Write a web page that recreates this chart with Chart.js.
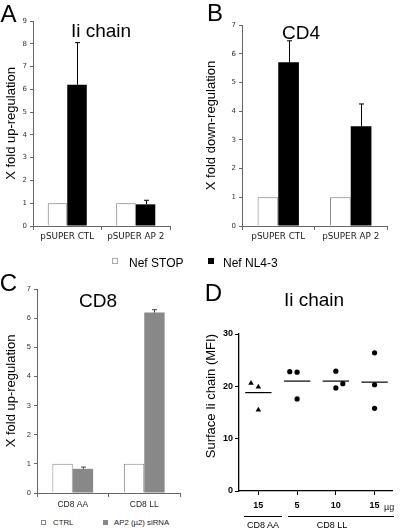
<!DOCTYPE html>
<html>
<head>
<meta charset="utf-8">
<script src="https://cdn.jsdelivr.net/npm/chart.js@4.4.0/dist/chart.umd.min.js"></script>
<style>
body { margin: 0; background: #fff; }
#wrap { position: relative; width: 400px; height: 528px; overflow: hidden;
        font-family: "Liberation Sans", Arial, sans-serif; color: #000; }
canvas { position: absolute; }
.t { position: absolute; white-space: nowrap; line-height: 1; transform: translate(-50%, -50%); }
.l { position: absolute; white-space: nowrap; line-height: 1; transform: translateY(-50%); }
.letter { font-size: 24px; }
.title { font-size: 19px; }
.sq { position: absolute; box-sizing: border-box; }
.gline { position: absolute; height: 0; border-top: 1px solid #000; }
</style>
</head>
<body>
<div id="wrap">
  <canvas id="cA" width="200" height="250" style="left:0;top:0"></canvas>
  <canvas id="cB" width="200" height="250" style="left:200px;top:0"></canvas>
  <canvas id="cC" width="200" height="258" style="left:0;top:260px"></canvas>
  <canvas id="cD" width="200" height="258" style="left:200px;top:260px"></canvas>

  <div class="t letter" style="left:8.5px;top:13.5px">A</div>
  <div class="t letter" style="left:215px;top:12.5px">B</div>
  <div class="t letter" style="left:8.5px;top:282.5px">C</div>
  <div class="t letter" style="left:213.5px;top:292.5px">D</div>

  <div class="t title" style="left:101px;top:30px">Ii chain</div>
  <div class="t title" style="left:301px;top:31.5px">CD4</div>
  <div class="t title" style="left:98px;top:300px">CD8</div>
  <div class="t title" style="left:314px;top:299px">Ii chain</div>

  <!-- legend A/B -->
  <div class="sq" style="left:112px;top:258px;width:6px;height:6px;border:1px solid #aaa;background:#fff"></div>
  <div class="l" style="left:129px;top:263px;font-size:12px">Nef STOP</div>
  <div class="sq" style="left:208px;top:258px;width:6px;height:6px;background:#000"></div>
  <div class="l" style="left:223px;top:263px;font-size:12px">Nef NL4-3</div>

  <!-- legend C -->
  <div class="sq" style="left:41px;top:520px;width:5px;height:5px;border:1px solid #888;background:#fff"></div>
  <div class="l" style="left:53px;top:522.5px;font-size:7.8px;color:#222">CTRL</div>
  <div class="sq" style="left:103px;top:520px;width:5px;height:5px;background:#888"></div>
  <div class="l" style="left:114px;top:522.5px;font-size:7.8px;color:#222">AP2 (µ2) siRNA</div>

  <!-- D extra axis text -->
  <div class="l" style="left:384px;top:507px;font-size:9px;color:#222">µg</div>
  <div class="gline" style="left:244px;top:516px;width:38px"></div>
  <div class="gline" style="left:288px;top:516px;width:106px"></div>
  <div class="t" style="left:263px;top:525px;font-size:9px">CD8 AA</div>
  <div class="t" style="left:332px;top:525px;font-size:9px">CD8 LL</div>
</div>

<script>
// panels A and B
var abCats = ['pSUPER CTL', 'pSUPER AP 2'];
var aStop = [1, 1];
var aNef = [6.2, 0.95];
var aNefErr = [1.85, 0.18];
var bStop = [1, 1];
var bNef = [5.7, 3.47];
var bNefErr = [0.75, 0.78];

// panel C
var cCats = ['CD8 AA', 'CD8 LL'];
var cCtrl = [1, 1];
var cSi = [0.83, 6.19];
var cSiErr = [0.06, 0.1];

// panel D
var dCats = ['15', '5', '10', '15'];
var dAA = [20.6, 19.9, 15.5];
var dAAJit = [-0.19, 0, 0];
var dLL5 = [22.8, 22.7, 17.6];
var dLL5Jit = [-0.19, 0, 0];
var dLL10 = [22.9, 19.7, 20.5];
var dLL10Jit = [0, 0, 0.18];
var dLL15 = [26.4, 20.3, 15.8];
var dLL15Jit = [0, 0, 0];
var dMeans = [18.8, 21.0, 21.0, 20.8];

// upper error bars on top of bars
var errBars = {
    id: 'errBars',
    afterDatasetsDraw: function (chart) {
        var ctx = chart.ctx, y = chart.scales.y;
        chart.data.datasets.forEach(function (ds, di) {
            if (!ds.errUp) return;
            chart.getDatasetMeta(di).data.forEach(function (bar, i) {
                var top = y.getPixelForValue(ds.data[i] + ds.errUp[i]);
                var x = Math.round(bar.x) + 0.5;
                ctx.save();
                ctx.strokeStyle = ds.errColor;
                ctx.lineWidth = 1;
                ctx.beginPath();
                ctx.moveTo(x, bar.y);
                ctx.lineTo(x, top);
                ctx.moveTo(x - 2.5, top);
                ctx.lineTo(x + 2.5, top);
                ctx.stroke();
                ctx.restore();
            });
        });
    }
};

function barChart(id, cats, s1, s2, err, ymax, yTitle, o) {
    return new Chart(document.getElementById(id), {
        type: 'bar',
        data: {
            labels: cats,
            datasets: [{
                data: s1,
                backgroundColor: '#fff',
                borderColor: o.edge,
                borderWidth: 1,
                borderSkipped: 'bottom'
            }, {
                data: s2,
                backgroundColor: o.fill,
                borderWidth: 0,
                errUp: err,
                errColor: o.errColor
            }]
        },
        options: {
            responsive: false,
            animation: false,
            layout: { padding: { top: o.top, right: o.right, left: 0, bottom: 0 } },
            datasets: { bar: { barPercentage: 1, categoryPercentage: 0.57 } },
            plugins: { legend: { display: false }, tooltip: { enabled: false } },
            scales: {
                x: {
                    afterFit: function (s) { s.height = o.xh; },
                    grid: { drawOnChartArea: false, tickLength: 4, color: '#666', offset: true },
                    border: { color: '#666', width: 1 },
                    ticks: { font: o.catFont, color: '#222', padding: o.catPad, maxRotation: 0 }
                },
                y: {
                    min: 0, max: ymax,
                    afterFit: function (s) { s.width = o.yw; },
                    grid: { drawOnChartArea: false, tickLength: 3, color: '#666' },
                    border: { color: '#666', width: 1 },
                    ticks: { stepSize: 1, font: o.tickFont, color: '#333', padding: 3 },
                    title: {
                        display: true, text: yTitle, color: '#000',
                        font: { family: 'Liberation Sans', size: 13 }
                    }
                }
            }
        },
        plugins: [errBars]
    });
}

var verd = { family: 'DejaVu Sans', size: 7 };
barChart('cA', abCats, aStop, aNef, aNefErr, 9, 'X fold up-regulation', {
    top: 21, right: 30, yw: 33, xh: 24, edge: '#777', fill: '#000', errColor: '#000', catPad: 1,
    catFont: { family: 'DejaVu Sans', size: 8.8 }, tickFont: verd
});
barChart('cB', abCats, bStop, bNef, bNefErr, 7, 'X fold down-regulation', {
    top: 25, right: 13, yw: 42, xh: 24, edge: '#777', fill: '#000', errColor: '#000', catPad: 1,
    catFont: { family: 'DejaVu Sans', size: 8.8 }, tickFont: verd
});
barChart('cC', cCats, cCtrl, cSi, cSiErr, 7, 'X fold up-regulation', {
    top: 29, right: 20, yw: 37, xh: 25, edge: '#888', fill: '#888', errColor: '#444', catPad: 3,
    catFont: { family: 'Liberation Sans', size: 8.5 }, tickFont: { family: 'Liberation Sans', size: 7.5 }
});

function pts(vals, jit, idx) {
    return vals.map(function (v, k) { return { x: idx + jit[k], y: v }; });
}
var dotStyle = { backgroundColor: '#000', borderWidth: 0 };
var dSets = [
    Object.assign({ data: pts(dAA, dAAJit, 0), pointStyle: 'triangle', pointRadius: 3.2 }, dotStyle),
    Object.assign({ data: pts(dLL5, dLL5Jit, 1), pointRadius: 2.6 }, dotStyle),
    Object.assign({ data: pts(dLL10, dLL10Jit, 2), pointRadius: 2.6 }, dotStyle),
    Object.assign({ data: pts(dLL15, dLL15Jit, 3), pointRadius: 2.6 }, dotStyle)
];
dMeans.forEach(function (m, i) {
    dSets.push({
        data: [{ x: i - 0.34, y: m }, { x: i + 0.34, y: m }],
        showLine: true, borderColor: '#000', borderWidth: 1.2, pointRadius: 0
    });
});

new Chart(document.getElementById('cD'), {
    type: 'scatter',
    data: { datasets: dSets },
    options: {
        responsive: false,
        animation: false,
        layout: { padding: { top: 74, right: 8, left: 0, bottom: 0 } },
        plugins: { legend: { display: false }, tooltip: { enabled: false } },
        scales: {
            x: {
                type: 'linear', min: -0.5, max: 3.45,
                afterBuildTicks: function (s) { s.ticks = dCats.map(function (c, i) { return { value: i }; }); },
                afterFit: function (s) { s.height = 27; },
                grid: { drawOnChartArea: false, tickLength: 4, color: '#000' },
                border: { color: '#000', width: 1.3 },
                ticks: {
                    callback: function (v) { return dCats[v]; },
                    font: { family: 'Liberation Sans', size: 9, weight: 'bold' },
                    color: '#000', padding: 5, maxRotation: 0, autoSkip: false
                }
            },
            y: {
                min: 0, max: 30,
                afterFit: function (s) { s.width = 39; },
                grid: { drawOnChartArea: false, tickLength: 4, color: '#000' },
                border: { color: '#000', width: 1.3 },
                ticks: {
                    stepSize: 10, font: { family: 'Liberation Sans', size: 9, weight: 'bold' },
                    color: '#000', padding: 2
                },
                title: {
                    display: true, text: 'Surface Ii chain (MFI)', align: 'end', color: '#000',
                    font: { family: 'Liberation Sans', size: 13 }
                }
            }
        }
    }
});
</script>
</body>
</html>
